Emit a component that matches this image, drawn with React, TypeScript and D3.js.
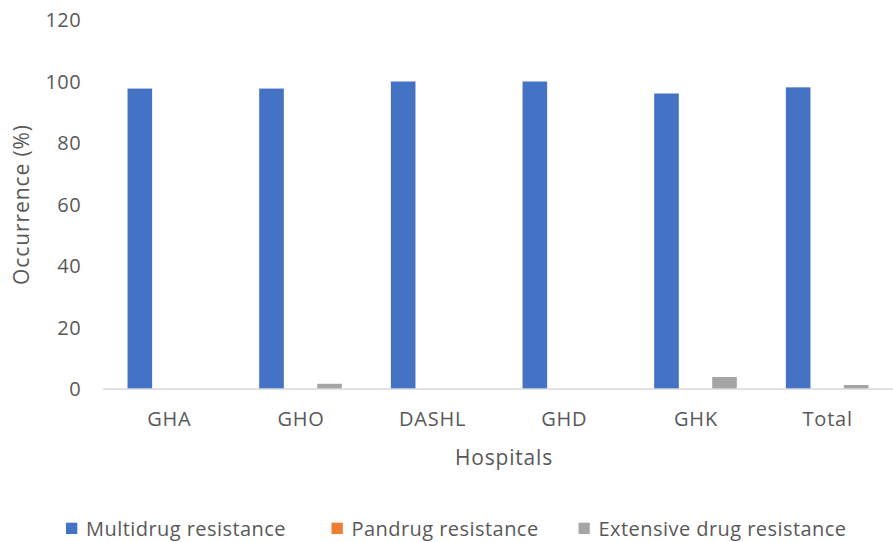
import React from "react";
import * as d3 from "d3";

const categories = ["GHA", "GHO", "DASHL", "GHD", "GHK", "Total"];
const multidrug = [97.7, 97.7, 100, 100, 96.1, 98.1];
const pandrug = [0, 0, 0, 0, 0, 0];
const extensive = [0, 1.7, 0, 0, 3.9, 1.3];
const seriesNames = ["Multidrug resistance", "Pandrug resistance", "Extensive drug resistance"];
const seriesColors = ["#4472C4", "#ED7D31", "#A5A5A5"];
const yTicks = [0, 20, 40, 60, 80, 100, 120];

const W = 893, H = 542;
const left = 103, right = 893, top = 20, bottom = 389;
const font = "'Open Sans', sans-serif";

export default function App() {
  const series = [multidrug, pandrug, extensive];
  const x = d3.scaleBand<string>().domain(categories).range([left, right]).paddingInner(0).paddingOuter(0);
  const y = d3.scaleLinear().domain([0, 120]).range([bottom, top]);
  const bw = 24.6;
  const step = 29;
  const legendX = [66, 331.5, 578.5];
  return (
    <svg width={W} height={H} style={{ position: "absolute", left: 0, top: 0, background: "#fff" }}>
      {categories.map((c, i) => {
        const cx = (x(c) as number) + x.bandwidth() / 2;
        return series.map((s, k) => {
          const v = s[i];
          if (v <= 0) return null;
          const bx = cx + (k - 1) * step - bw / 2;
          return <rect key={c + k} x={bx} y={y(v)} width={bw} height={y(0) - y(v)} fill={seriesColors[k]} />;
        });
      })}
      <line x1={left} x2={right} y1={y(0)} y2={y(0)} stroke="#D9D9D9" strokeWidth={1.5} />
      {yTicks.map((t) => (
        <text key={t} x={81} y={y(t)} dy="0.35em" textAnchor="end" fontSize={20} letterSpacing={0.4} fill="#595959" fontFamily={font}>{t}</text>
      ))}
      {categories.map((c) => (
        <text key={c} x={(x(c) as number) + x.bandwidth() / 2 + 0.5} y={426} textAnchor="middle" fontSize={20} letterSpacing={0.8} fill="#595959" fontFamily={font}>{c}</text>
      ))}
      <text x={504} y={465} textAnchor="middle" fontSize={21} letterSpacing={0.8} fill="#595959" fontFamily={font}>Hospitals</text>
      <text transform={`translate(29,${(top + bottom) / 2}) rotate(-90)`} textAnchor="middle" fontSize={21} letterSpacing={0.9} fill="#595959" fontFamily={font}>Occurrence (%)</text>
      {seriesNames.map((n, k) => (
        <g key={n}>
          <rect x={legendX[k]} y={522.7} width={11.3} height={11.3} fill={seriesColors[k]} />
          <text x={legendX[k] + 20} y={536} fontSize={20} letterSpacing={0.45} fill="#595959" fontFamily={font}>{n}</text>
        </g>
      ))}
    </svg>
  );
}
